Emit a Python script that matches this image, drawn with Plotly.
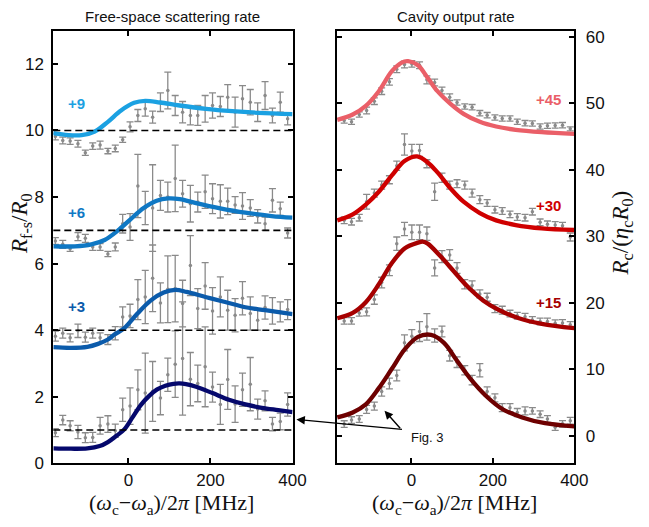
import plotly.graph_objects as go

# ---------------- data ----------------
left_x = [-178, -160, -142, -123, -105, -87, -69, -50, -32, -14, 4, 23, 41, 59, 78, 96,
          114, 132, 151, 169, 187, 205, 224, 242, 260, 278, 297, 315, 333, 351, 370, 388]

fs_p9 = [9.82, 9.70, 9.68, 9.60, 9.33, 9.53, 9.56, 9.38, 9.46, 9.72, 10.11, 10.45, 10.65, 10.40, 10.85, 11.20,
         10.75, 10.55, 10.45, 10.45, 10.65, 10.75, 10.72, 11.00, 10.55, 10.95, 10.85, 10.55, 11.05, 10.45, 10.85, 10.35]
fs_p9_err = [0.10, 0.10, 0.10, 0.10, 0.08, 0.10, 0.12, 0.08, 0.10, 0.08, 0.15, 0.18, 0.22, 0.18, 0.28, 0.55,
             0.30, 0.32, 0.28, 0.30, 0.40, 0.38, 0.30, 0.38, 0.45, 0.40, 0.38, 0.28, 0.42, 0.22, 0.30, 0.18]

fs_p6 = [6.68, 6.58, 6.45, 6.81, 6.76, 6.50, 6.50, 6.29, 6.50, 7.20, 7.10, 8.33, 7.67, 7.67, 8.05, 8.00,
         8.56, 8.10, 7.80, 7.85, 8.16, 7.95, 7.87, 7.87, 7.76, 7.73, 7.67, 7.42, 7.20, 7.90, 7.65, 6.92]
fs_p6_err = [0.10, 0.12, 0.08, 0.12, 0.12, 0.10, 0.10, 0.08, 0.12, 0.28, 0.40, 0.95, 0.50, 1.30, 0.45, 0.45,
             1.00, 0.40, 0.55, 0.30, 0.50, 0.45, 0.50, 0.40, 0.25, 0.40, 0.25, 0.20, 0.20, 0.35, 0.20, 0.15]

fs_p3 = [3.82, 3.91, 3.77, 3.98, 3.79, 3.91, 3.77, 3.72, 3.91, 4.40, 4.43, 4.92, 5.00, 5.56, 4.82, 5.23,
         5.25, 4.80, 5.94, 4.65, 5.33, 4.58, 5.00, 4.60, 4.45, 4.96, 4.50, 4.30, 4.68, 4.58, 4.55, 4.62]
fs_p3_err = [0.15, 0.15, 0.12, 0.20, 0.15, 0.15, 0.15, 0.15, 0.20, 0.30, 0.35, 0.60, 0.80, 1.00, 0.60, 1.00,
             1.00, 0.70, 0.90, 0.60, 0.70, 0.70, 0.60, 0.60, 0.50, 0.50, 0.50, 0.30, 0.35, 0.40, 0.30, 0.30]

fs_p0 = [0.92, 1.30, 1.13, 0.94, 0.77, 0.78, 1.13, 1.18, 0.98, 1.61, 1.72, 2.21, 2.11, 2.16, 1.96, 2.66,
         2.98, 3.15, 2.53, 2.40, 2.90, 2.29, 1.77, 2.52, 1.78, 2.21, 2.38, 1.63, 1.88, 1.18, 1.26, 1.77]
fs_p0_err = [0.12, 0.14, 0.15, 0.20, 0.15, 0.15, 0.25, 0.25, 0.20, 0.35, 0.55, 0.60, 1.20, 0.90, 0.50, 0.50,
             1.00, 1.70, 0.80, 0.55, 1.20, 0.45, 0.60, 0.90, 0.55, 0.50, 0.80, 0.30, 0.30, 0.20, 0.25, 0.35]

# fit curves (left)
fit9_x = [-183, -146, -114, -82, -50, -18, 14, 41, 77, 125, 189, 253, 317, 400]
fit9_y = [9.92, 9.86, 9.86, 9.97, 10.26, 10.60, 10.83, 10.89, 10.84, 10.75, 10.65, 10.58, 10.53, 10.49]
fit6_x = [-183, -130, -90, -58, -26, 5, 37, 69, 97, 125, 165, 221, 285, 349, 400]
fit6_y = [6.52, 6.52, 6.58, 6.71, 6.99, 7.33, 7.67, 7.89, 7.96, 7.94, 7.82, 7.67, 7.53, 7.43, 7.38]
fit3_x = [-183, -140, -100, -74, -50, -34, -10, 22, 54, 86, 114, 142, 190, 238, 285, 333, 400]
fit3_y = [3.49, 3.47, 3.50, 3.59, 3.72, 3.87, 4.06, 4.50, 4.89, 5.13, 5.21, 5.15, 4.99, 4.84, 4.69, 4.60, 4.48]
fit0_x = [-183, -140, -100, -70, -50, -30, -10, 10, 30, 50, 70, 90, 110, 125, 140, 165, 205, 245, 285, 325, 365, 400]
fit0_y = [0.45, 0.44, 0.45, 0.52, 0.64, 0.82, 1.02, 1.38, 1.75, 2.02, 2.22, 2.33, 2.39, 2.40, 2.38, 2.30, 2.11,
          1.91, 1.77, 1.67, 1.60, 1.54]

dashed_levels = [1, 4, 7, 10]

right_x = [-165, -147, -128, -110, -91, -73, -54, -36, -17, 1, 20, 38, 57, 75, 94, 112,
           131, 149, 168, 186, 205, 223, 242, 260, 279, 297, 316, 334, 353, 371, 390]

co_p45 = [47.4, 47.2, 48.3, 48.9, 50.3, 51.8, 53.2, 55.1, 55.8, 55.9, 55.7, 53.5, 53.1, 51.9, 50.9, 50.1,
          49.5, 49.4, 48.5, 48.2, 47.85, 47.7, 47.7, 47.2, 47.0, 46.95, 46.5, 46.6, 46.65, 46.7, 46.15]
co_p45_err = [0.4, 0.4, 0.4, 0.5, 0.5, 0.5, 0.5, 0.5, 0.5, 0.5, 0.5, 0.6, 0.5, 0.5, 0.5, 0.4,
              0.4, 0.4, 0.4, 0.4, 0.4, 0.4, 0.4, 0.4, 0.4, 0.4, 0.4, 0.4, 0.4, 0.4, 0.3]

co_p30 = [32.4, 32.2, 32.8, 35.2, 36.5, 37.7, 38.5, 40.6, 43.8, 42.8, 42.9, 40.9, 36.7, 38.8, 37.7, 37.9,
          37.7, 36.5, 35.5, 35.0, 34.0, 33.8, 33.3, 32.9, 32.8, 33.7, 32.1, 31.8, 31.7, 31.6, 29.9]
co_p30_err = [0.5, 0.5, 0.5, 1.1, 0.6, 0.6, 0.6, 0.7, 1.6, 1.0, 0.9, 0.6, 1.3, 0.7, 0.6, 0.6,
              0.6, 0.6, 0.6, 0.5, 0.5, 0.5, 0.5, 0.5, 0.5, 0.5, 0.5, 0.5, 0.5, 0.5, 0.6]

co_p15 = [17.3, 17.3, 18.5, 18.66, 20.5, 23.05, 24.9, 28.9, 31.1, 30.6, 30.6, 30.4, 25.25, 26.96, 27.2, 25.25,
          22.8, 22.6, 21.35, 20.85, 19.15, 18.9, 18.4, 18.07, 17.93, 17.45, 17.2, 17.2, 16.96, 17.0, 16.7]
co_p15_err = [0.5, 0.5, 0.5, 0.6, 0.7, 0.8, 0.8, 1.0, 1.0, 1.1, 1.1, 1.0, 1.2, 0.9, 0.8, 0.8,
              0.7, 0.7, 0.6, 0.6, 0.6, 0.6, 0.5, 0.5, 0.5, 0.5, 0.5, 0.5, 0.5, 0.5, 0.5]

co_p0 = [1.8, 2.4, 2.56, 4.0, 4.5, 6.7, 7.9, 9.1, 14.0, 15.0, 15.7, 16.4, 15.1, 15.7, 12.07, 11.1,
         9.88, 8.4, 9.88, 6.7, 5.74, 4.27, 4.27, 3.54, 3.78, 3.78, 3.29, 2.56, 1.34, 1.83, 2.3]
co_p0_err = [0.5, 0.5, 0.5, 0.6, 0.6, 0.7, 0.8, 0.8, 1.2, 1.0, 1.5, 2.0, 1.0, 0.8, 0.8, 0.8,
             0.7, 0.7, 1.0, 0.7, 0.6, 0.6, 0.6, 0.6, 0.6, 0.5, 0.5, 0.5, 0.5, 0.5, 0.5]

# fit curves (right)
cfit45_x = [-182, -144, -112, -80, -48, -24, -8, 16, 40, 64, 96, 128, 168, 208, 256, 320, 400]
cfit45_y = [47.5, 48.3, 49.6, 51.8, 54.8, 56.1, 56.3, 55.7, 53.8, 51.8, 49.9, 48.4, 47.2, 46.5, 46.0, 45.65, 45.4]
cfit30_x = [-182, -144, -112, -80, -48, -16, 14, 40, 64, 96, 128, 168, 208, 256, 320, 400]
cfit30_y = [32.4, 33.3, 34.76, 36.7, 39.15, 41.35, 42.0, 41.1, 39.6, 37.2, 35.2, 33.5, 32.4, 31.7, 31.2, 30.95]
cfit15_x = [-182, -144, -112, -80, -48, -16, 16, 28, 40, 72, 104, 136, 176, 216, 264, 320, 400]
cfit15_y = [17.7, 18.5, 20.1, 22.8, 26.0, 28.2, 29.05, 29.2, 28.9, 26.96, 24.76, 22.57, 20.37, 18.9, 17.7, 16.86, 16.2]
cfit0_x = [-182, -144, -112, -80, -48, -16, 16, 48, 80, 112, 144, 184, 224, 272, 328, 400]
cfit0_y = [2.8, 3.54, 4.76, 7.2, 10.1, 13.05, 14.9, 15.2, 14.0, 11.3, 8.66, 5.98, 4.03, 2.8, 1.93, 1.45]

left_labels = ["+9", "+6", "+3"]
right_labels = ["+45", "+30", "+15"]

# ---------------- styling ----------------
W, H = 649, 527
def px(xp):
    return xp / W
def py(yp):
    return 1 - yp / H

GRAY = "#8a8a8a"
SANS = "Liberation Sans, Arial, sans-serif"
SERIF = "Liberation Serif, Times New Roman, serif"

fig = go.Figure()

def data_trace(x, y, e, xa, ya):
    fig.add_trace(go.Scatter(
        x=x, y=y, mode="markers", xaxis=xa, yaxis=ya,
        marker=dict(size=3.5, color=GRAY),
        error_y=dict(type="data", array=e, visible=True, color=GRAY, thickness=1.3, width=3.5),
        showlegend=False, hoverinfo="skip"))

def fit_trace(x, y, color, xa, ya):
    fig.add_trace(go.Scatter(
        x=x, y=y, mode="lines", xaxis=xa, yaxis=ya,
        line=dict(color=color, width=4.3, shape="spline", smoothing=1.0),
        showlegend=False, hoverinfo="skip"))

for y, e in [(fs_p9, fs_p9_err), (fs_p6, fs_p6_err), (fs_p3, fs_p3_err), (fs_p0, fs_p0_err)]:
    data_trace(left_x, y, e, "x", "y")
for fx, fy, c in [(fit9_x, fit9_y, "#1ba1e2"), (fit6_x, fit6_y, "#0f78c4"),
                  (fit3_x, fit3_y, "#0b5bab"), (fit0_x, fit0_y, "#05086c")]:
    fit_trace(fx, fy, c, "x", "y")

for y, e in [(co_p45, co_p45_err), (co_p30, co_p30_err), (co_p15, co_p15_err), (co_p0, co_p0_err)]:
    data_trace(right_x, y, e, "x2", "y2")
for fx, fy, c in [(cfit45_x, cfit45_y, "#ea5f68"), (cfit30_x, cfit30_y, "#cf0000"),
                  (cfit15_x, cfit15_y, "#a60000"), (cfit0_x, cfit0_y, "#6e0000")]:
    fit_trace(fx, fy, c, "x2", "y2")

shapes = []
for lv in dashed_levels:
    shapes.append(dict(type="line", xref="x domain", yref="y", x0=0, x1=1, y0=lv, y1=lv,
                       line=dict(color="black", width=1.6, dash="7px,4px"), layer="above"))

axis_common = dict(showline=True, linecolor="black", linewidth=2, mirror="ticks",
                   ticks="inside", ticklen=5, tickwidth=1.5, tickcolor="black",
                   showgrid=False, zeroline=False,
                   tickfont=dict(family=SANS, size=17, color="#111"))

fig.update_layout(
    width=W, height=H, autosize=False,
    margin=dict(l=0, r=0, t=0, b=0),
    paper_bgcolor="white", plot_bgcolor="white",
    xaxis=dict(domain=[px(54.5), px(299)], range=[-183, 400], tickvals=[0, 200, 400],
               anchor="y", ticklabelstandoff=0, **axis_common),
    yaxis=dict(domain=[py(472), py(28.3)], range=[0, 13], tickvals=[0, 2, 4, 6, 8, 10, 12],
               anchor="x", ticklabelstandoff=4, **axis_common),
    xaxis2=dict(domain=[px(344.3), px(587)], range=[-183, 400], tickvals=[0, 200, 400],
                anchor="y2", ticklabelstandoff=0, **axis_common),
    yaxis2=dict(domain=[py(472), py(28.3)], range=[-4.1, 60.9], tickvals=[0, 10, 20, 30, 40, 50, 60],
                anchor="x2", side="right", ticklabelstandoff=6, **axis_common),
    shapes=shapes,
)

ann = []
def txt(x, y, text, size, color="#111", family=SANS, angle=0, bold=False):
    t = f"<b>{text}</b>" if bold else text
    ann.append(dict(x=px(x), y=py(y), xref="paper", yref="paper", text=t, showarrow=False,
                    font=dict(family=family, size=size, color=color), textangle=angle,
                    xanchor="center", yanchor="middle"))

txt(176, 14, "Free-space scattering rate", 15)
txt(466, 14, "Cavity output rate", 15)

for lab, (xx, yy), col in zip(left_labels, [(78, 103), (78, 215), (78, 311)],
                              ["#1ba1e2", "#0f78c4", "#0b5bab"]):
    txt(xx, yy, lab, 15, color=col, bold=True)
for lab, (xx, yy), col in zip(right_labels, [(561, 99), (561, 208), (561, 307)],
                              ["#ea5f68", "#cf0000", "#a60000"]):
    txt(xx, yy, lab, 15, color=col, bold=True)

txt(437, 446, "Fig. 3", 13)

xlabel = "(<i>ω</i><sub>c</sub>−<i>ω</i><sub>a</sub>)/2<i>π</i> [MHz]"
txt(175, 514, xlabel, 22, family=SERIF)
txt(465, 514, xlabel, 22, family=SERIF)
txt(22, 226, "<i>R</i><sub>f-s</sub>/<i>R</i><sub>0</sub>", 23, family=SERIF, angle=-90)
txt(636, 236, "<i>R</i><sub>c</sub>/(<i>η</i><sub>c</sub><i>R</i><sub>0</sub>)", 23, family=SERIF, angle=-90)

# arrows
ann.append(dict(x=px(303), y=py(427), xref="paper", yref="paper", text="", showarrow=True,
                ax=107, ay=10, arrowhead=2, arrowsize=1.2, arrowwidth=1.4, arrowcolor="black"))
ann.append(dict(x=px(393), y=py(418), xref="paper", yref="paper", text="", showarrow=True,
                ax=17, ay=19, arrowhead=2, arrowsize=1.2, arrowwidth=1.4, arrowcolor="black"))

fig.update_layout(annotations=ann)
fig.write_html("out.html",
               config={"displayModeBar": False},
               post_script="document.body.style.margin='0';document.body.style.padding='0';")
